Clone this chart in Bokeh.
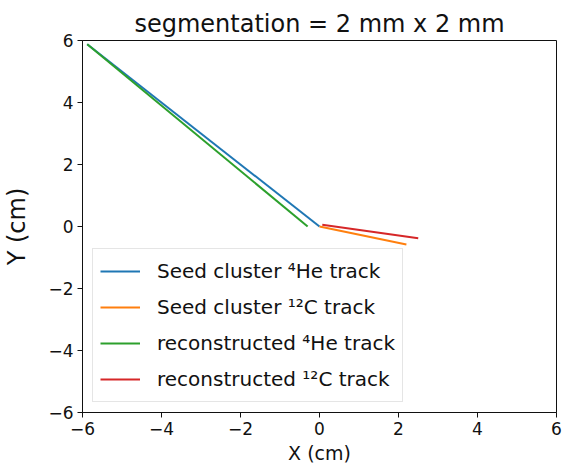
from bokeh.plotting import figure
from bokeh.models import Range1d, Legend, LegendItem, FixedTicker, CustomJSTickFormatter
from bokeh.embed import file_html
from bokeh.resources import INLINE

# Data
he_seed_x = [-5.88, 0.0]
he_seed_y = [5.88, 0.0]
c_seed_x = [0.0, 2.2]
c_seed_y = [0.0, -0.58]
he_reco_x = [-5.88, -0.3]
he_reco_y = [5.88, 0.0]
c_reco_x = [0.07, 2.5]
c_reco_y = [0.06, -0.38]
ticks = [-6, -4, -2, 0, 2, 4, 6]
labels = ["Seed cluster \u2074He track", "Seed cluster \u00b9\u00b2C track",
          "reconstructed \u2074He track", "reconstructed \u00b9\u00b2C track"]
colors = ["#1f77b4", "#ff7f0e", "#2ca02c", "#d62728"]

FONT = "DejaVu Sans"
INK = "#111111"

p = figure(width=562, height=466, output_backend="svg", toolbar_location=None,
           x_range=Range1d(-6, 6), y_range=Range1d(-6, 6),
           min_border_left=82, min_border_right=6, min_border_top=40, min_border_bottom=53,
           title="segmentation = 2 mm x 2 mm")
p.title.align = "center"
p.title.text_font = FONT
p.title.text_font_size = "24px"
p.title.text_font_style = "normal"
p.title.text_color = INK
p.title.standoff = 6

p.xgrid.visible = False
p.ygrid.visible = False
p.outline_line_color = INK
p.outline_line_alpha = 1.0
p.outline_line_width = 1

fmt = CustomJSTickFormatter(code="return String(tick).replace('-', '\\u2212');")
for ax in (p.xaxis[0], p.yaxis[0]):
    ax.ticker = FixedTicker(ticks=ticks)
    ax.formatter = fmt
    ax.minor_tick_line_color = None
    ax.major_tick_in = 0
    ax.major_tick_out = 5
    ax.major_tick_line_color = INK
    ax.axis_line_color = INK
    ax.major_label_text_font = FONT
    ax.major_label_text_font_size = "17px"
    ax.major_label_text_color = INK
    ax.axis_label_text_font = FONT
    ax.axis_label_text_font_style = "normal"
    ax.axis_label_text_color = INK
    ax.major_label_standoff = 4
p.xaxis.axis_label = "X (cm)"
p.xaxis.axis_label_text_font_size = "19px"
p.xaxis.axis_label_standoff = 4
p.yaxis.axis_label = "Y (cm)"
p.yaxis.axis_label_text_font_size = "24px"
p.yaxis.axis_label_standoff = 14

r1 = p.line(he_seed_x, he_seed_y, line_color=colors[0], line_width=2)
r2 = p.line(c_seed_x, c_seed_y, line_color=colors[1], line_width=2)
r3 = p.line(he_reco_x, he_reco_y, line_color=colors[2], line_width=2)
r4 = p.line(c_reco_x, c_reco_y, line_color=colors[3], line_width=2)

legend = Legend(items=[LegendItem(label=labels[i], renderers=[r]) for i, r in enumerate([r1, r2, r3, r4])],
                location="bottom_left")
legend.label_text_font = FONT
legend.label_text_font_size = "20px"
legend.label_text_color = INK
legend.glyph_width = 40
legend.glyph_height = 30
legend.label_height = 30
legend.spacing = 6
legend.padding = 7
legend.label_standoff = 17
legend.margin = 10
legend.border_line_color = "#cccccc"
legend.background_fill_alpha = 0.8
p.add_layout(legend)

open("out.html", "w").write(file_html(p, INLINE))
